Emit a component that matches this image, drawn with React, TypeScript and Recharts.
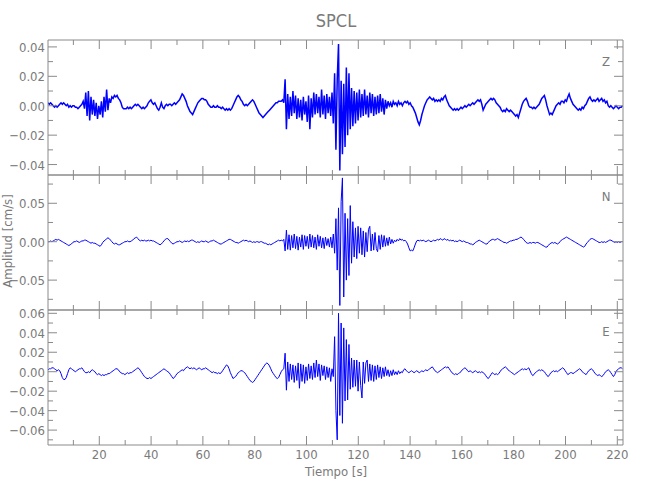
import React from 'react';
import { LineChart, Line, XAxis, YAxis } from 'recharts';

// sampling of the three traces (s)
const sampleStart = 0.2;
const sampleStep = 0.503;

// amplitudes in 1e-3 cm/s, one row = 20 samples
const zValues = [
  2, 1, 2, 1, 0, -1, 0, -1, 0, 1, 2, 1, 2, 1, 0, 1, -1, 0, -1, 0,
  0, -1, -1, -2, -1, 0, 1, 3, -2, 9, -7, 10, -10, 6, -6, 4, -7, 2, -9, 0,
  -6, 3, -8, 6, -4, 11, -3, 5, 2, 6, 5, 7, 6, 7, 5, 4, 2, -1, -2, -2,
  -2, -1, -2, -1, -2, -1, 0, 1, 0, 1, 0, -1, -2, -1, -2, -1, 0, 2, 3, 4,
  2, 1, 2, 0, -2, -3, -1, 2, -1, -2, 0, 1, 0, 1, 1, 0, 1, 2, 1, 2,
  3, 4, 6, 8, 7, 5, 3, 0, -2, -4, -5, -6, -4, -2, 0, 2, 3, 4, 5, 5,
  4, 4, 3, 1, 0, -1, -1, 0, -1, -1, 0, -1, -1, -2, -1, -2, -3, -2, -3, -2,
  -3, -2, 0, 2, 4, 6, 7, 6, 4, 3, 1, 0, 1, 0, 1, 2, 3, 4, 3, 1,
  -1, -3, -5, -6, -7, -8, -7, -6, -5, -4, -3, -2, -1, 0, 1, 2, 2, 3, 3, 3,
  4, 2, 18, -16, 8, -9, 6, -7, 10, -5, 7, -9, 5, -8, 4, -10, 6, -6, 3, -11,
  7, -16, 5, -8, 9, -6, 8, -5, 6, -8, 11, -6, 7, -9, 8, -5, 6, -7, 9, -12,
  22, -30, 18, 42, -44, 17, -33, 15, -28, 26, -20, 22, -16, 12, -14, 10, -12, 9, -10, 11,
  -8, 8, -7, 11, -6, 7, -8, 9, -5, 8, -7, 6, -6, 7, -5, 8, -4, 5, -6, 4,
  -2, 3, 0, 2, -1, 3, 1, 2, 0, 3, 1, 2, 0, 2, 3, 2, 3, 1, 2, 0,
  -1, -3, -5, -8, -11, -13, -10, -6, -3, 0, 2, 4, 5, 6, 5, 4, 5, 3, 4, 3,
  4, 3, 5, 4, 6, 7, 4, 2, 0, -1, -2, -3, -2, -3, -2, -3, -2, -1, -2, -1,
  0, -1, 0, 1, 0, 1, 2, 1, 2, 3, 4, 3, 4, 1, -3, -1, 1, 2, 3, 4,
  5, 4, 5, 4, 2, 1, 0, -1, -3, -4, -3, -4, -2, -3, -4, -3, -4, -5, -6, -7,
  -6, -8, -5, -2, 1, 3, 4, 5, 3, 0, -1, -1, -2, -1, -2, -1, 0, 1, 3, 5,
  6, 7, 4, 0, -3, -6, -5, -6, -4, -2, 0, 1, 2, 1, 3, 3, 2, 4, 3, 6,
  8, 5, 3, 1, 0, -1, -2, -3, -2, -3, -1, -2, 0, 1, 3, 5, 6, 4, 3, 4,
  3, 4, 5, 3, 4, 5, 3, 4, 2, 3, 0, -1, 0, -1, -2, -1, 0, -1, -2, -1,
  -1, 0,
];

const nValues = [
  0, 0, 1, 0, 1, 2, 3, 2, 3, 2, 1, 0, -1, -2, -3, -4, -5, -4, -3, -1,
  0, 0, 1, 0, -1, 0, 1, 1, 2, 2, 1, 0, -1, -2, -1, -2, -2, -3, -4, -5,
  -6, -4, -1, 1, 2, 4, 5, 4, 2, 0, -2, -3, -2, -3, -4, -4, -3, -2, -1, 0,
  0, 1, 0, 0, 1, 2, 4, 5, 6, 4, 2, 1, 2, 1, 2, 1, 1, 2, 1, 2,
  1, 1, 0, -1, -2, -3, -4, -3, -1, 1, 3, 4, 4, 2, 0, -2, -3, -2, -1, 0,
  0, 1, 0, -1, 0, 1, 0, 1, 0, 1, 2, 2, 1, 0, -1, 0, -1, 0, 1, 0,
  0, 1, 0, -1, 0, 1, 1, 2, 1, 0, -1, -2, -3, -3, -2, -1, 0, 1, 2, 3,
  3, 2, 1, 0, -1, -1, -2, -1, 0, 1, 2, 1, 2, 1, 0, 1, 0, -1, 0, -1,
  0, 0, -1, 0, 0, -1, -2, -2, -3, -4, -3, -4, -3, -2, -1, 0, 1, 2, 1, 2,
  1, 3, -12, 15, -10, 9, -11, 8, -8, 10, -9, 7, -11, 6, -7, 9, -10, 8, -6, 7,
  -9, 10, -7, 8, -8, 6, -10, 9, -6, 7, -8, 5, -9, 6, -5, 4, -7, 6, -8, 10,
  -15, 30, -37, 44, -83, 52, 83, -72, 37, -50, 30, -44, 47, -28, 26, -20, 18, -22, 20, -15,
  18, -17, 14, -20, 12, -13, 16, 20, -12, 10, -11, 12, -9, -13, 8, -10, 9, -7, 8, -6,
  5, -5, 6, -3, 3, -2, 2, 0, 3, 1, 4, 2, 3, 1, 2, 0, -3, -8, -12, -11,
  -12, -8, -3, 1, 2, 1, 2, 1, 2, 1, 0, 1, 2, 1, 0, 1, 2, 1, 2, 3,
  2, 4, 3, 2, 4, 3, 2, 3, 1, 2, 1, 2, 0, 1, 0, 1, 2, 1, 0, 1,
  0, -1, -1, -2, -3, -3, -4, -3, -1, 0, 1, 2, 1, 0, -1, -2, -3, -3, -1, 1,
  2, 3, 3, 2, 3, 4, 3, 2, 1, 0, -1, -1, -2, -1, 0, 1, 1, 2, 2, 3,
  3, 4, 5, 6, 5, 3, 1, -1, -2, -2, -1, -2, -1, -1, -2, -1, -1, -2, -3, -4,
  -5, -6, -7, -7, -5, -3, -2, -1, -2, -1, -2, -3, -2, 0, 2, 3, 4, 5, 6, 5,
  4, 3, 2, 1, 0, -1, -2, -3, -4, -5, -6, -7, -6, -3, -1, 1, 3, 4, 4, 3,
  2, 1, 0, -1, -1, 0, -1, 0, -1, 0, 1, 2, 2, 1, 0, -1, 0, -1, 0, -1,
  0, 0,
];

const eValues = [
  2, 3, 3, 4, 4, 3, 2, 1, 2, 1, -2, -6, -8, -8, -6, -2, 2, 4, 3, 2,
  1, 0, 1, 2, 3, 3, 4, 2, 0, -1, -1, 0, -1, 1, 2, 1, 0, -2, -3, -2,
  -3, -4, -3, -4, -3, -3, -2, -2, -1, 0, 1, 2, 3, 3, 2, 0, -1, -2, -2, -3,
  -2, -1, -2, -1, -1, 0, 1, 2, 3, 4, 3, 1, -1, -3, -5, -6, -7, -7, -6, -7,
  -6, -5, -4, -3, -2, -1, 0, 1, 2, 3, 2, 1, 0, -1, -3, -5, -7, -6, -4, -2,
  -1, 0, 1, 2, 1, 3, 4, 5, 4, 3, 4, 3, 4, 3, 2, 3, 4, 3, 2, 3,
  3, 4, 3, 2, 1, 0, -1, 0, -1, -1, -2, -1, -2, -1, 1, 3, 5, 7, 6, 3,
  -1, -4, -7, -6, -5, -3, -1, 0, 1, 1, 0, -1, -3, -5, -7, -9, -10, -11, -10, -8,
  -6, -4, -2, 0, 2, 4, 6, 8, 9, 8, 6, 3, 0, -2, -4, -6, -7, -6, -3, 0,
  2, 3, 19, -19, 10, -10, 8, -8, 7, -11, 6, -9, 9, -17, 8, -10, 7, -12, 5, -9,
  8, -7, 6, -8, 9, -6, 12, -5, 8, -9, 7, -4, 6, -8, 5, -6, 4, -10, 3, -5,
  36, -40, -70, 60, -45, 50, -53, 45, -30, 33, -29, 28, -18, 14, -16, 12, -15, 12, -20, 10,
  -14, -27, 10, -12, 9, 12, -10, 8, -9, 7, -10, 6, -8, 7, -6, 5, -7, 4, -5, 5,
  -4, 2, -5, 1, -4, 2, -3, 0, -3, 1, -2, 0, -1, 2, 3, 1, 0, -1, 0, 1,
  0, -1, 0, 1, 0, -1, 0, 1, 0, 1, 2, 1, 2, 3, 4, 5, 3, 1, 0, -1,
  0, 1, 2, 3, 4, 5, 4, 5, 3, 1, -1, -2, -3, -2, -3, -2, -1, 0, 2, 3,
  4, 3, 1, 0, 1, 0, -1, 0, 1, 0, -1, 0, -1, 0, -1, -2, -4, -6, -7, -5,
  -3, -1, -2, -3, -2, -3, -2, 0, 2, 3, 4, 5, 4, 2, 1, 0, -1, -2, -3, -2,
  -1, 0, 1, 2, 3, 2, 3, 2, 3, 4, 1, -2, -4, -3, -1, 0, 1, 2, 1, 2,
  1, 0, -2, -4, -5, -3, -1, 0, 1, 0, 1, 0, 1, 2, 3, 4, 3, 1, -1, -3,
  -2, -1, -1, -2, -1, 0, 1, 2, 3, 2, 0, -1, -2, -3, -1, 1, 2, 3, 2, 0,
  -2, -3, -4, -3, -4, -5, -4, -2, 0, 1, 2, 1, -1, -3, -5, -3, 0, 2, 3, 4,
  4, 3,
];

const timeTicks = [10, 20, 30, 40, 50, 60, 70, 80, 90, 100, 110, 120, 130, 140, 150, 160, 170, 180, 190, 200, 210, 220];
const zTicks = [-0.04, -0.03, -0.02, -0.01, 0, 0.01, 0.02, 0.03, 0.04];
const nTicks = [-0.075, -0.05, -0.025, 0, 0.025, 0.05, 0.075];
const eTicks = [-0.07, -0.06, -0.05, -0.04, -0.03, -0.02, -0.01, 0, 0.01, 0.02, 0.03, 0.04, 0.05, 0.06];

const timeDomain = [0.2, 222.2];
const GREY = '#8a8a8a';
const TEXT = '#7a7a7a';
const FONT = "'Liberation Sans Narrow', 'DejaVu Sans Condensed', 'Liberation Sans', sans-serif";

const isMajor = (v: number, step: number) => Math.abs(v / step - Math.round(v / step)) < 1e-6;
const fmtAmp = (v: number) => (v < 0 ? '\u2212' + Math.abs(v).toFixed(2) : v.toFixed(2));

function makeTick(side: string, step: number, labels: boolean, fmt?: (v: number) => string) {
  return (props: any) => {
    const { x, y, payload } = props;
    const v = payload.value;
    const big = isMajor(v, step);
    const len = big ? 9 : 5;
    let line;
    let text = null;
    if (side === 'bottom') {
      line = <line x1={x} x2={x} y1={y} y2={y - len} stroke={GREY} />;
      if (labels && big) {
        text = (
          <text x={x} y={y + 14} textAnchor="middle" fill={TEXT} fontSize={13} fontFamily={FONT}>
            {v}
          </text>
        );
      }
    } else if (side === 'top') {
      line = <line x1={x} x2={x} y1={y} y2={y + len} stroke={GREY} />;
    } else if (side === 'left') {
      line = <line x1={x} x2={x + len} y1={y} y2={y} stroke={GREY} />;
      if (labels && big && fmt) {
        text = (
          <text x={x - 3} y={y + 5} textAnchor="end" fill={TEXT} fontSize={13} fontFamily={FONT}>
            {fmt(v)}
          </text>
        );
      }
    } else {
      line = <line x1={x} x2={x - len} y1={y} y2={y} stroke={GREY} />;
    }
    return (
      <g>
        {line}
        {text}
      </g>
    );
  };
}

interface PanelProps {
  values: number[];
  yDomain: number[];
  yTicks: number[];
  yStep: number;
  top: number;
  showTime: boolean;
  width: number;
}

function Panel({ values, yDomain, yTicks, yStep, top, showTime, width }: PanelProps) {
  const data = values.map((v, i) => ({ t: sampleStart + i * sampleStep, v: v / 1000 }));
  const bottom = showTime ? 40 : 10;
  // x axes are 1px tall, so margins are 1px smaller
  return (
    <div style={{ position: 'absolute', left: 0, top: top - 10 }}>
      <LineChart width={650} height={135 + 10 + bottom} data={data} margin={{ top: 9, right: 0, bottom: bottom - 1, left: 0 }}>
        <XAxis
          xAxisId="b"
          dataKey="t"
          type="number"
          domain={timeDomain}
          allowDataOverflow
          ticks={timeTicks}
          interval={0}
          height={1}
          tickSize={0}
          tickMargin={0}
          tickLine={false}
          axisLine={{ stroke: GREY }}
          tick={makeTick('bottom', 20, showTime)}
        />
        <XAxis
          xAxisId="t"
          orientation="top"
          dataKey="t"
          type="number"
          domain={timeDomain}
          allowDataOverflow
          ticks={timeTicks}
          interval={0}
          height={1}
          tickSize={0}
          tickMargin={0}
          tickLine={false}
          axisLine={{ stroke: GREY }}
          tick={makeTick('top', 20, false)}
        />
        <YAxis
          yAxisId="l"
          type="number"
          domain={yDomain}
          allowDataOverflow
          ticks={yTicks}
          interval={0}
          width={48}
          tickSize={0}
          tickMargin={0}
          tickLine={false}
          axisLine={{ stroke: GREY }}
          tick={makeTick('left', yStep, true, fmtAmp)}
        />
        <YAxis
          yAxisId="r"
          orientation="right"
          type="number"
          domain={yDomain}
          allowDataOverflow
          ticks={yTicks}
          interval={0}
          width={27}
          tickSize={0}
          tickMargin={0}
          tickLine={false}
          axisLine={{ stroke: GREY }}
          tick={makeTick('right', yStep, false)}
        />
        <Line
          xAxisId="b"
          yAxisId="l"
          type="linear"
          dataKey="v"
          stroke="#0000ff"
          strokeWidth={width}
          dot={false}
          isAnimationActive={false}
        />
      </LineChart>
    </div>
  );
}

export default function App() {
  return (
    <div style={{ position: 'absolute', left: 0, top: 0, width: 650, height: 500, background: '#fff' }}>
      <Panel values={zValues} yDomain={[-0.0471, 0.0447]} yTicks={zTicks} yStep={0.02} top={40} showTime={false} width={1.5} />
      <Panel values={nValues} yDomain={[-0.0889, 0.0868]} yTicks={nTicks} yStep={0.05} top={175} showTime={false} width={1} />
      <Panel values={eValues} yDomain={[-0.0753, 0.0634]} yTicks={eTicks} yStep={0.02} top={310} showTime width={1} />
      <svg width={650} height={500} style={{ position: 'absolute', left: 0, top: 0, pointerEvents: 'none' }}>
        <g fontFamily={FONT} fill={TEXT}>
          <text x={336} y={27} textAnchor="middle" fontSize={18}>SPCL</text>
          <text x={336} y={476} textAnchor="middle" fontSize={13}>Tiempo [s]</text>
          <text x={12} y={241} textAnchor="middle" fontSize={13} transform="rotate(-90 12 241)">Amplitud [cm/s]</text>
          <text x={606} y={66} textAnchor="middle" fontSize={13}>Z</text>
          <text x={606} y={201} textAnchor="middle" fontSize={13}>N</text>
          <text x={606} y={336} textAnchor="middle" fontSize={13}>E</text>
        </g>
      </svg>
    </div>
  );
}
